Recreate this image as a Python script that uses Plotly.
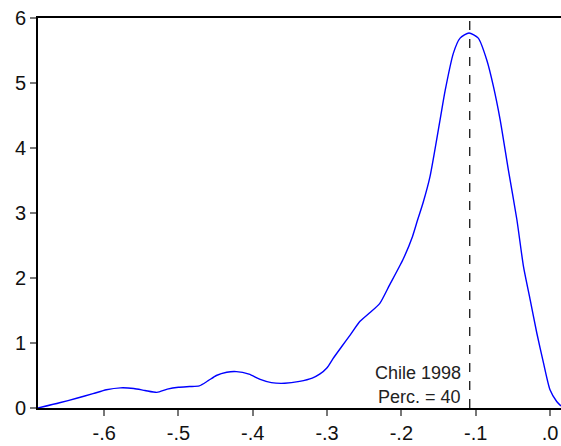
import plotly.graph_objects as go

# Kernel density curve
x_vals = [-0.689, -0.660, -0.637, -0.615, -0.597, -0.578, -0.560, -0.545, -0.529, -0.515,
          -0.500, -0.485, -0.472, -0.460, -0.449, -0.435, -0.422, -0.405, -0.390, -0.375,
          -0.357, -0.337, -0.320, -0.310, -0.300, -0.292, -0.280, -0.269, -0.256, -0.243,
          -0.229, -0.216, -0.198, -0.185, -0.178, -0.171, -0.1615, -0.148, -0.141, -0.130,
          -0.121, -0.109, -0.0965, -0.085, -0.076, -0.067, -0.056, -0.0446, -0.0356, -0.0266,
          -0.0177, -0.0087, 0.0, 0.009, 0.0148]
density = [0.0, 0.08, 0.15, 0.22, 0.28, 0.31, 0.30, 0.27, 0.24, 0.29,
           0.32, 0.33, 0.34, 0.42, 0.50, 0.55, 0.56, 0.52, 0.44, 0.39,
           0.38, 0.41, 0.46, 0.52, 0.62, 0.76, 0.95, 1.12, 1.33, 1.46,
           1.61, 1.89, 2.28, 2.64, 2.90, 3.15, 3.56, 4.43, 4.89, 5.46,
           5.69, 5.77, 5.69, 5.35, 4.94, 4.43, 3.66, 2.90, 2.17, 1.66,
           1.15, 0.69, 0.28, 0.10, 0.03]

x_tickvals = [-0.6, -0.5, -0.4, -0.3, -0.2, -0.1, 0.0]
x_ticktext = ["-.6", "-.5", "-.4", "-.3", "-.2", "-.1", ".0"]
y_tickvals = [0, 1, 2, 3, 4, 5, 6]

marker_x = -0.108
label_lines = ["Chile 1998", "Perc. = 40"]
label_y = [0.543, 0.174]

fig = go.Figure()
fig.add_trace(go.Scatter(x=x_vals, y=density, mode="lines",
                         line=dict(color="#0000ff", width=1.4, shape="spline", smoothing=0.6),
                         hoverinfo="skip", showlegend=False, cliponaxis=False))

fig.add_shape(type="line", x0=marker_x, x1=marker_x, y0=0, y1=6, xref="x", yref="y",
              line=dict(color="black", width=1.2, dash="dash"))

for txt, yy in zip(label_lines, label_y):
    fig.add_annotation(x=-0.1168, y=yy, xref="x", yref="y", text=txt, showarrow=False,
                       xanchor="right", yanchor="middle",
                       font=dict(family="Arial, Liberation Sans", size=18, color="#222222"))

fig.update_layout(
    width=561, height=446,
    margin=dict(l=38, r=0, t=18, b=38, autoexpand=False),
    paper_bgcolor="white", plot_bgcolor="white",
    showlegend=False,
    font=dict(family="Arial, Liberation Sans", size=20, color="#111111"),
    xaxis=dict(range=[-0.689, 0.0148], tickvals=x_tickvals, ticktext=x_ticktext, automargin=False,
               showgrid=False, zeroline=False, showline=True, linecolor="black", linewidth=2,
               mirror=True, ticks="outside", ticklen=6, tickcolor="#777777", tickwidth=1.5),
    yaxis=dict(range=[0, 6], tickvals=y_tickvals, automargin=False,
               showgrid=False, zeroline=False, showline=True, linecolor="black", linewidth=2,
               mirror=False, ticks="outside", ticklen=6, tickcolor="#777777", tickwidth=1.5),
)

fig.write_html("out.html", config={"displayModeBar": False},
               post_script="document.body.style.margin='0';document.body.style.padding='0';")
